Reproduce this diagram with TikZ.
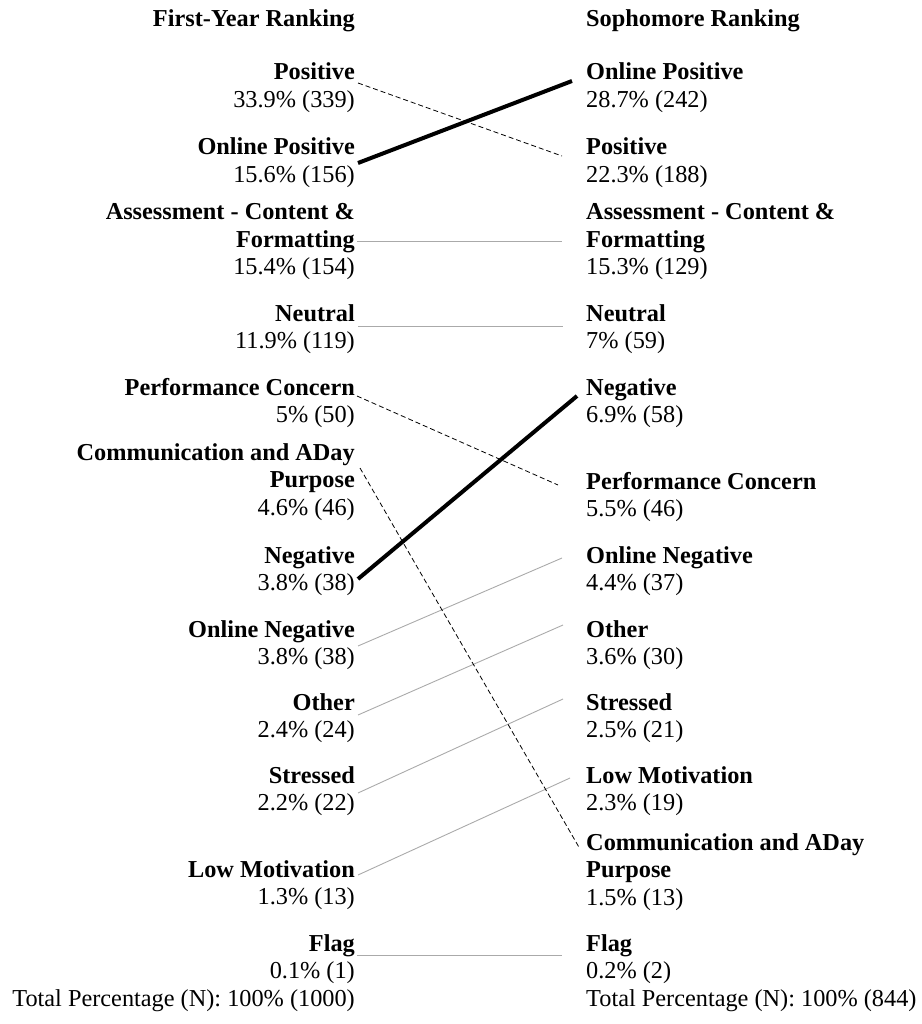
\documentclass[tikz,border=0pt]{standalone}
\usepackage{fontspec}
\setmainfont{Liberation Serif}
\newcommand{\rtab}[1]{\begin{tabular}[t]{@{}r@{}}#1\end{tabular}}
\newcommand{\ltab}[1]{\begin{tabular}[t]{@{}l@{}}#1\end{tabular}}
\definecolor{linegray}{RGB}{170,170,170}
\tikzset{
  lbl/.style={anchor=base east, inner sep=0pt, font=\fontsize{24.3}{27.5}\selectfont},
  rbl/.style={anchor=base west, inner sep=0pt, font=\fontsize{24.3}{27.5}\selectfont},
  grayline/.style={draw=linegray, line width=0.9pt},
  dashline/.style={draw=black, line width=0.8pt, dash pattern=on 5pt off 3pt},
  thickline/.style={draw=black, line width=4pt}
}
\begin{document}
\begin{tikzpicture}[x=1pt,y=-1pt]
\useasboundingbox (0,0) rectangle (921,1024);
% titles
\node[lbl] (tL) at (355,27) {\textbf{First-Year Ranking}};
\node[rbl] (tR) at (586,27) {\textbf{Sophomore Ranking}};
% left column
\node[lbl] (L1) at (355,80) {\rtab{\textbf{Positive}\\33.9\% (339)}};
\node[lbl] (L2) at (355,155) {\rtab{\textbf{Online Positive}\\15.6\% (156)}};
\node[lbl] (L3) at (355,220) {\rtab{\textbf{Assessment - Content \&}\\\textbf{Formatting}\\15.4\% (154)}};
\node[lbl] (L4) at (355,321) {\rtab{\textbf{Neutral}\\11.9\% (119)}};
\node[lbl] (L5) at (355,395) {\rtab{\textbf{Performance Concern}\\5\% (50)}};
\node[lbl] (L6) at (355,460) {\rtab{\textbf{Communication and ADay}\\\textbf{Purpose}\\4.6\% (46)}};
\node[lbl] (L7) at (355,563) {\rtab{\textbf{Negative}\\3.8\% (38)}};
\node[lbl] (L8) at (355,637) {\rtab{\textbf{Online Negative}\\3.8\% (38)}};
\node[lbl] (L9) at (355,710) {\rtab{\textbf{Other}\\2.4\% (24)}};
\node[lbl] (L10) at (355,783) {\rtab{\textbf{Stressed}\\2.2\% (22)}};
\node[lbl] (L11) at (355,877) {\rtab{\textbf{Low Motivation}\\1.3\% (13)}};
\node[lbl] (L12) at (355,951) {\rtab{\textbf{Flag}\\0.1\% (1)}};
\node[lbl] (LT) at (355,1006) {Total Percentage (N): 100\% (1000)};
% right column
\node[rbl] (R1) at (586,80) {\ltab{\textbf{Online Positive}\\28.7\% (242)}};
\node[rbl] (R2) at (586,155) {\ltab{\textbf{Positive}\\22.3\% (188)}};
\node[rbl] (R3) at (586,220) {\ltab{\textbf{Assessment - Content \&}\\\textbf{Formatting}\\15.3\% (129)}};
\node[rbl] (R4) at (586,321) {\ltab{\textbf{Neutral}\\7\% (59)}};
\node[rbl] (R5) at (586,395) {\ltab{\textbf{Negative}\\6.9\% (58)}};
\node[rbl] (R6) at (586,489) {\ltab{\textbf{Performance Concern}\\5.5\% (46)}};
\node[rbl] (R7) at (586,563) {\ltab{\textbf{Online Negative}\\4.4\% (37)}};
\node[rbl] (R8) at (586,637) {\ltab{\textbf{Other}\\3.6\% (30)}};
\node[rbl] (R9) at (586,710) {\ltab{\textbf{Stressed}\\2.5\% (21)}};
\node[rbl] (R10) at (586,783) {\ltab{\textbf{Low Motivation}\\2.3\% (19)}};
\node[rbl] (R11) at (586,850) {\ltab{\textbf{Communication and ADay}\\\textbf{Purpose}\\1.5\% (13)}};
\node[rbl] (R12) at (586,951) {\ltab{\textbf{Flag}\\0.2\% (2)}};
\node[rbl] (RT) at (586,1006) {Total Percentage (N): 100\% (844)};
% connector end points
\coordinate (aPosL) at (358,83);   \coordinate (aPosR) at (562,156);
\coordinate (aOPL) at (358,163);   \coordinate (aOPR) at (572,81);
\coordinate (aAsL) at (357,241);   \coordinate (aAsR) at (562,241);
\coordinate (aNeuL) at (358,326);  \coordinate (aNeuR) at (563,326);
\coordinate (aPCL) at (357,396);   \coordinate (aPCR) at (558,485);
\coordinate (aComL) at (360,468);  \coordinate (aComR) at (580,849);
\coordinate (aNegL) at (358,579);  \coordinate (aNegR) at (577,396);
\coordinate (aONL) at (358,646);   \coordinate (aONR) at (562,558);
\coordinate (aOthL) at (358,715);  \coordinate (aOthR) at (563,625);
\coordinate (aStrL) at (358,793);  \coordinate (aStrR) at (563,699);
\coordinate (aLML) at (358,875);   \coordinate (aLMR) at (570,778);
\coordinate (aFlL) at (357,955);   \coordinate (aFlR) at (562,955);
% connectors
\draw[grayline] (aAsL) -- (aAsR);
\draw[grayline] (aNeuL) -- (aNeuR);
\draw[grayline] (aONL) -- (aONR);
\draw[grayline] (aOthL) -- (aOthR);
\draw[grayline] (aStrL) -- (aStrR);
\draw[grayline] (aLML) -- (aLMR);
\draw[grayline] (aFlL) -- (aFlR);
\draw[dashline] (aPosL) -- (aPosR);
\draw[dashline] (aPCL) -- (aPCR);
\draw[dashline] (aComL) -- (aComR);
\draw[thickline] (aOPL) -- (aOPR);
\draw[thickline] (aNegL) -- (aNegR);
\end{tikzpicture}
\end{document}
